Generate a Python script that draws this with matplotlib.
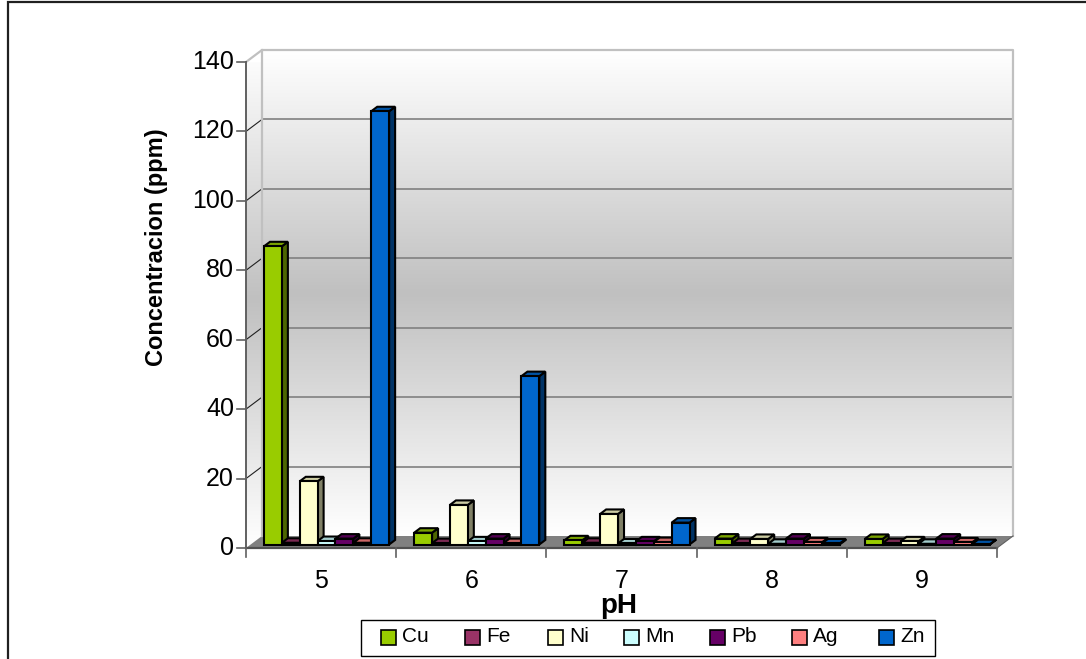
import numpy as np
import matplotlib
matplotlib.use("Agg")
import matplotlib.pyplot as plt
from matplotlib.lines import Line2D
from matplotlib.patches import Polygon, Rectangle
from matplotlib.colors import LinearSegmentedColormap, to_rgb

plt.rcParams["font.family"] = ["Liberation Sans", "DejaVu Sans"]

# Metal concentrations (ppm) per pH
ph_labels = ["5", "6", "7", "8", "9"]
cu = [85.9, 3.4, 1.2, 1.7, 1.6]
fe = [0.5, 0.4, 0.5, 0.4, 0.4]
ni = [18.2, 11.4, 8.8, 1.6, 0.9]
mn = [1.0, 0.9, 0.3, 0.2, 0.2]
pb = [1.7, 1.7, 0.9, 1.7, 1.7]
ag = [0.5, 0.4, 0.7, 0.6, 0.6]
zn = [124.8, 48.5, 6.3, 0.3, 0.1]

metals = ["Cu", "Fe", "Ni", "Mn", "Pb", "Ag", "Zn"]
series = [cu, fe, ni, mn, pb, ag, zn]
colors = ["#99cc00", "#993366", "#ffffcc", "#ccffff", "#660066", "#ff8080", "#0066cc"]
yticks = [0, 20, 40, 60, 80, 100, 120, 140]

W, H = 1086, 659
fig = plt.figure(figsize=(W / 100, H / 100), dpi=100, facecolor="white")


def fx(x):
    return x / W


def fy(y):
    return 1 - y / H


# Page border: open on the right and at the bottom
fig.add_artist(Line2D([fx(8), fx(8), 1], [0, fy(2), fy(2)], transform=fig.transFigure,
                      color="#202020", lw=1.6, solid_joinstyle="miter"))

# Front plane of the pseudo-3D box
left, right, top, bottom = 246, 997, 62, 548
ax = fig.add_axes([fx(left), fy(bottom), (right - left) / W, (bottom - top) / H])
ax.set_xlim(0, 5)
ax.set_ylim(0, 140)
ax.axis("off")

px = 5 / (right - left)            # one pixel along x, in data units
py = 140 / (bottom - top)          # one pixel along y, in data units
box_dx, box_dy = 16 * px, 12 * py  # depth of the box
bar_dx, bar_dy = 6 * px, 4.5 * py  # depth of a bar
off_dy = 3.5 * py                  # bars stand slightly behind the front edge

gray = LinearSegmentedColormap.from_list(
    "wall", [(0, "#ffffff"), (0.5, "#c0c0c0"), (1, "#ffffff")])
grad = np.linspace(0, 1, 256).reshape(-1, 1)

# Back wall with vertical gradient
ax.imshow(grad, cmap=gray, aspect="auto", zorder=1, clip_on=False,
          extent=(box_dx, 5 + box_dx, box_dy, 140 + box_dy))
ax.set_xlim(0, 5)
ax.set_ylim(0, 140)

# Side wall
side = Polygon([(0, 0), (box_dx, box_dy), (box_dx, 140 + box_dy), (0, 140)],
               closed=True, fc="none", ec="none", transform=ax.transData)
ax.add_patch(side)
im = ax.imshow(grad, cmap=gray, aspect="auto", zorder=1, clip_on=True,
               extent=(0, box_dx, 0, 140 + box_dy))
im.set_clip_path(side)
ax.set_xlim(0, 5)
ax.set_ylim(0, 140)

# Floor
ax.add_patch(Polygon([(0, 0), (5, 0), (5 + box_dx, box_dy), (box_dx, box_dy)],
                     closed=True, fc="#808080", ec="none", zorder=2, clip_on=False))

# Gridlines wrap from the side wall on to the back wall
for v in yticks[1:-1]:
    ax.plot([box_dx, 5 + box_dx], [v + box_dy] * 2, color="#808080", lw=1.2, zorder=2, clip_on=False)
    ax.plot([0, box_dx], [v, v + box_dy], color="#202020", lw=0.8, zorder=2, clip_on=False)

# Outline of the walls
ax.plot([0, box_dx, 5 + box_dx, 5 + box_dx], [140, 140 + box_dy, 140 + box_dy, box_dy],
        color="#c0c0c0", lw=1.6, zorder=2, clip_on=False)
ax.plot([box_dx, box_dx], [box_dy, 140 + box_dy], color="#c0c0c0", lw=1.6, zorder=2, clip_on=False)
ax.plot([5, 5 + box_dx], [0, box_dy], color="#606060", lw=0.8, zorder=2, clip_on=False)

# Axis lines and tick marks
ax.plot([0, 0], [0, 140], color="#606060", lw=1.4, zorder=6, clip_on=False)
ax.plot([0, 5], [0, 0], color="#505050", lw=1.6, zorder=6, clip_on=False)
for v in yticks:
    ax.plot([-9 * px, 0], [v, v], color="#606060", lw=1.2, zorder=6, clip_on=False)
    ax.text(-12 * px, v, str(v), ha="right", va="center", fontsize=18, color="black")
for i in range(6):
    ax.plot([i, i], [0, -9 * py], color="#606060", lw=1.2, zorder=6, clip_on=False)
for i, lab in enumerate(ph_labels):
    ax.text(i + 0.5, -33 * py, lab, ha="center", va="center", fontsize=18, color="black")


def shade(col, k):
    return tuple(c * k for c in to_rgb(col))


# Bars: front, top and side faces
bar_w = 0.119
gap = 18 * px
edge = dict(ec="black", lw=1.5, joinstyle="miter")
for g in range(len(ph_labels)):
    for s, (vals, col) in enumerate(zip(series, colors)):
        x0 = g + gap + s * bar_w
        x1 = x0 + bar_w
        y0 = off_dy
        y1 = vals[g] + off_dy
        z = 3 + g + s * 0.01
        ax.add_patch(Polygon([(x1, y0), (x1 + bar_dx, y0 + bar_dy), (x1 + bar_dx, y1 + bar_dy), (x1, y1)],
                             closed=True, fc=shade(col, 0.5), zorder=z, clip_on=False, **edge))
        ax.add_patch(Polygon([(x0, y1), (x1, y1), (x1 + bar_dx, y1 + bar_dy), (x0 + bar_dx, y1 + bar_dy)],
                             closed=True, fc=shade(col, 0.8), zorder=z, clip_on=False, **edge))
        ax.add_patch(Rectangle((x0, y0), bar_w, vals[g], fc=col, zorder=z, clip_on=False, **edge))

# Axis titles
fig.text(fx(157), fy(247), "Concentracion (ppm)", rotation=90, ha="center", va="center",
         fontsize=17, fontweight="bold")
fig.text(fx(619), fy(606), "pH", ha="center", va="center", fontsize=20, fontweight="bold")

# Legend strip, laid out by hand along a single row
fig.add_artist(Rectangle((fx(361), fy(656)), (935 - 361) / W, (656 - 620) / H,
                         transform=fig.transFigure, fc="white", ec="black", lw=1.0))
swatch_left = [381, 465, 548, 624, 710, 792, 879]
for name, col, sx in zip(metals, colors, swatch_left):
    fig.add_artist(Rectangle((fx(sx), fy(645)), 15 / W, 15 / H, transform=fig.transFigure,
                             fc=col, ec="black", lw=1.2))
    fig.text(fx(sx + 21), fy(636), name, ha="left", va="center", fontsize=15)

fig.savefig("out.png", dpi=100)
